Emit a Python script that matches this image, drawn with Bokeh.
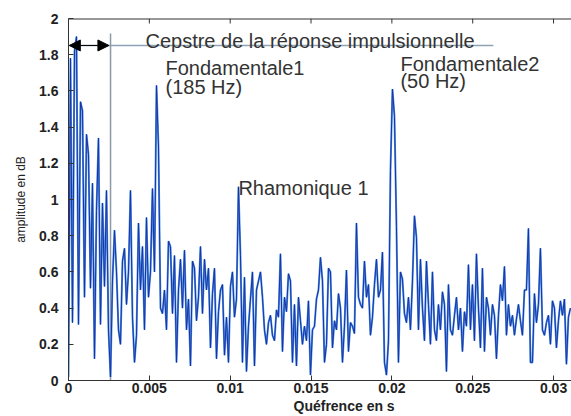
import numpy as np
from bokeh.plotting import figure
from bokeh.models import (SingleIntervalTicker, CustomJSTickFormatter,
                          Label, Arrow, NormalHead, Title, Range1d, Span)
from bokeh.embed import file_html
from bokeh.resources import INLINE

# ---- data -------------------------------------------------------------
SAMPLE_RATE = 8085.0  # Hz (quefrency step of the cepstrum)

cepstrum_db = [
    0.02, 1.78, 0.32, 1.82, 1.90, 0.31, 1.54, 1.49, 0.46, 1.36,
    1.25, 0.51, 1.09, 0.12, 0.94, 1.34, 0.31, 0.98, 0.52, 1.05,
    0.28, 0.02, 0.55, 0.83, 0.60, 0.28, 0.20, 0.66, 0.73, 0.42,
    0.60, 1.05, 0.35, 0.10, 0.25, 0.87, 0.50, 0.74, 0.28, 0.90,
    0.46, 0.60, 1.06, 0.60, 1.63, 1.29, 0.40, 0.37, 0.50, 0.28,
    0.77, 0.74, 0.37, 0.69, 0.10, 0.50, 0.67, 0.40, 0.72, 0.28,
    0.45, 0.08, 0.66, 0.62, 0.33, 0.46, 0.74, 0.37, 0.67, 0.50,
    0.62, 0.18, 0.48, 0.62, 0.12, 0.38, 0.50, 0.53, 0.14, 0.35,
    0.10, 0.52, 0.60, 0.35, 0.45, 1.07, 0.69, 0.10, 0.57, 0.05,
    0.30, 0.45, 0.60, 0.08, 0.50, 0.55, 0.60, 0.46, 0.28, 0.20,
    0.32, 0.36, 0.25, 0.22, 0.39, 0.35, 0.70, 0.16, 0.46, 0.38,
    0.59, 0.55, 0.10, 0.42, 0.08, 0.46, 0.33, 0.20, 0.30, 0.22,
    0.44, 0.03, 0.28, 0.30, 0.45, 0.50, 0.68, 0.55, 0.10, 0.20,
    0.62, 0.60, 0.18, 0.33, 0.28, 0.48, 0.40, 0.10, 0.30, 0.61,
    0.16, 0.32, 0.30, 0.26, 0.87, 0.46, 0.42, 0.40, 0.66, 0.46,
    0.53, 0.25, 0.35, 0.53, 0.67, 0.46, 0.50, 0.71, 0.10, 0.03,
    0.22, 1.16, 1.61, 1.46, 0.85, 0.10, 0.60, 0.56, 0.37, 0.32,
    0.46, 0.28, 0.55, 0.91, 0.79, 0.28, 0.67, 0.40, 0.22, 0.66,
    0.42, 0.20, 0.60, 0.28, 0.22, 0.42, 0.28, 0.49, 0.42, 0.05,
    0.53, 0.28, 0.25, 0.36, 0.46, 0.28, 0.40, 0.16, 0.38, 0.30,
    0.64, 0.28, 0.53, 0.22, 0.70, 0.40, 0.18, 0.62, 0.16, 0.46,
    0.40, 0.25, 0.42, 0.36, 0.12, 0.36, 0.53, 0.44, 0.63, 0.25,
    0.42, 0.30, 0.36, 0.25, 0.34, 0.42, 0.33, 0.25, 0.50, 0.50,
    0.84, 0.10, 0.10, 0.48, 0.32, 0.42, 0.73, 0.28, 0.25, 0.32,
    0.36, 0.20, 0.44, 0.40, 0.18, 0.33, 0.44, 0.36, 0.45, 0.09,
    0.35, 0.40,
]
quefrency = np.arange(len(cepstrum_db)) / SAMPLE_RATE

x_tick_values = [0, 0.005, 0.01, 0.015, 0.02, 0.025, 0.03]
y_ticks_interval = 0.2

X_MAX = 0.03111
Y_MAX = 2.0

# ---- figure -----------------------------------------------------------
p = figure(width=571, height=416, output_backend="svg", toolbar_location=None,
           x_range=Range1d(0, X_MAX), y_range=Range1d(0, Y_MAX),
           min_border_left=68, min_border_right=0, min_border_top=18,
           min_border_bottom=36, background_fill_color="white",
           border_fill_color="white", outline_line_color=None)
p.xgrid.visible = False
p.ygrid.visible = False

fmt = CustomJSTickFormatter(code="return String(parseFloat(tick.toFixed(4)));")

for ax in (p.xaxis[0], p.yaxis[0]):
    ax.major_tick_in = 5
    ax.major_tick_out = 0
    ax.minor_tick_line_color = None
    ax.axis_line_color = "#333333"
    ax.major_tick_line_color = "#333333"
    ax.major_label_text_font = "Liberation Sans"
    ax.major_label_text_font_style = "bold"
    ax.major_label_text_font_size = "14px"
    ax.major_label_text_color = "#222222"
    ax.formatter = fmt

p.xaxis[0].ticker = x_tick_values
p.yaxis[0].ticker = SingleIntervalTicker(interval=y_ticks_interval)
p.xaxis[0].major_label_standoff = 2
p.yaxis[0].major_label_standoff = 6

p.yaxis[0].axis_label = "amplitude en dB"
p.yaxis[0].axis_label_text_font = "Liberation Sans"
p.yaxis[0].axis_label_text_font_style = "normal"
p.yaxis[0].axis_label_text_font_size = "12px"
p.yaxis[0].axis_label_text_color = "#222222"
p.yaxis[0].axis_label_standoff = 8

p.add_layout(Title(text="Quéfrence en s", align="left", offset=225,
                   text_font="Liberation Sans", text_font_size="14px",
                   text_font_style="bold", text_color="#222222", standoff=0), "below")

# ---- top frame line with inward ticks ---------------------------------
p.add_layout(Span(location=Y_MAX, dimension="width", line_color="#333333", line_width=2))
tick_len = 5.0 / 362 * Y_MAX
p.segment(x0=x_tick_values, y0=[Y_MAX] * len(x_tick_values),
          x1=x_tick_values, y1=[Y_MAX - tick_len] * len(x_tick_values),
          line_color="#333333", line_width=1)

# ---- annotation lines -------------------------------------------------
p.line([0, 0.02628], [1.851, 1.851], line_color="#8fa3b8", line_width=1.5)
p.line([0.0026, 0.0026], [0, 1.917], line_color="#8c9aa8", line_width=1.5)
p.add_layout(Arrow(x_start=0.00005, y_start=1.851, x_end=0.0025, y_end=1.851,
                   line_color="black", line_width=1,
                   start=NormalHead(size=11, fill_color="black", line_color="black"),
                   end=NormalHead(size=11, fill_color="black", line_color="black")))

# ---- data line --------------------------------------------------------
p.line(quefrency, cepstrum_db, line_color="#4a9be6", line_width=2.0)
p.line(quefrency, cepstrum_db, line_color="#1f2fa6", line_width=1.0)

# ---- text labels ------------------------------------------------------
def lab(x, y, t, size="20px"):
    p.add_layout(Label(x=x, y=y, text=t, text_font="Liberation Sans",
                       text_font_size=size, text_color="#333333",
                       text_baseline="alphabetic", text_align="left"))

lab(0.00476, 1.878, "Cepstre de la réponse impulsionnelle", "20px")
lab(0.0060, 1.724, "Fondamentale1")
lab(0.0060, 1.624, "(185 Hz)")
lab(0.01051, 1.066, "Rhamonique 1")
lab(0.02053, 1.746, "Fondamentale2")
lab(0.02053, 1.652, "(50 Hz)")

open("out.html", "w").write(file_html(p, INLINE))
